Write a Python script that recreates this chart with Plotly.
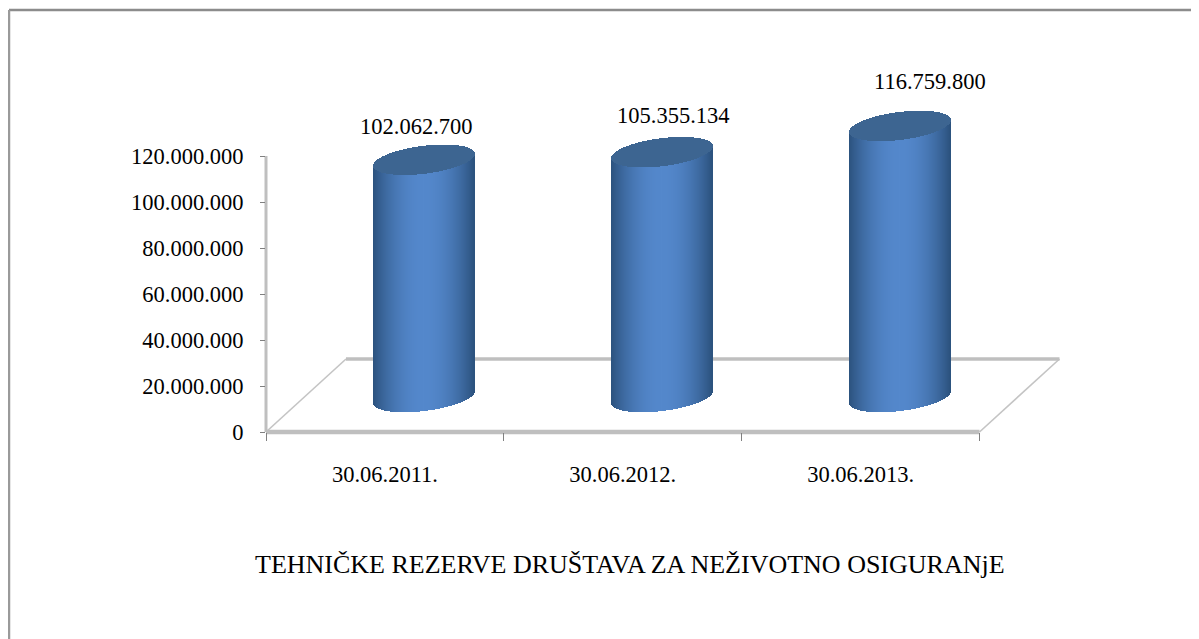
import numpy as np
import plotly.graph_objects as go

categories = ["30.06.2011.", "30.06.2012.", "30.06.2013."]
values = [102062700, 105355134, 116759800]
y_ticks = [0, 20000000, 40000000, 60000000, 80000000, 100000000, 120000000]
title_text = "TEHNIČKE REZERVE DRUŠTAVA ZA NEŽIVOTNO OSIGURANjE"

PAGE = 8  # default body margin of the written page
W, H = 1199 - PAGE, 639 - PAGE
LEFT, BOTTOM_Y, TOP_Y, RIGHT = 266 - PAGE, 432 - PAGE, 60 - PAGE, 1062 - PAGE
PX_PER_CAT = (979.5 - 266) / 3
PX_PER_UNIT = 276 / 120e6


def fmt(v):
    return f"{v:,d}".replace(",", ".")


def dx(px):
    return px / PX_PER_CAT


def dy(px):
    return px / PX_PER_UNIT


DEPTH_X, DEPTH_Y = 80, 73
BAR_SHIFT_X, BAR_SHIFT_Y = 39.5, 35
TOP_LIFT = 2.5
A, SHEAR, B = 50.5, 6.0, 14.0
FONT = "Liberation Serif"
us = (np.arange(-A, A, 1.0) + 0.5) / A


def shade(u):
    # dark at the edges, light near the middle
    t = np.abs(u) ** 2.0
    light = np.array([84, 136, 204])
    dark = np.array([44, 82, 126])
    c = light + (dark - light) * np.clip(t, 0, 1)[:, None]
    return [f"rgb({int(r)},{int(g)},{int(b)})" for r, g, b in c]


fig = go.Figure()
for i, v in enumerate(values):
    cx = i + 0.5 + dx(BAR_SHIFT_X)
    xs = cx + us * dx(A)
    widths = np.full_like(us, dx(1.0))
    half = B * np.sqrt(np.clip(1 - us ** 2, 0, 1))
    floor_c = dy(BAR_SHIFT_Y)
    top_c = floor_c + v + dy(TOP_LIFT)
    body_base = floor_c + dy(SHEAR * us) - dy(half)
    top_low = top_c + dy(SHEAR * us) - dy(half)
    top_high = top_c + dy(SHEAR * us) + dy(half)
    fig.add_trace(go.Bar(x=xs, y=top_low - body_base, base=body_base, width=widths,
                         marker=dict(color=shade(us), line_width=0), hoverinfo="skip"))
    fig.add_trace(go.Bar(x=xs, y=top_high - top_low, base=top_low, width=widths,
                         marker=dict(color="#3D6591", line_width=0), hoverinfo="skip"))

PW, PH = RIGHT - LEFT, BOTTOM_Y - TOP_Y


def px_x(px):
    return px / PW


def px_y(px):
    return px / PH


x_end = PX_PER_CAT * 3
axis_span = y_ticks[-1] * PX_PER_UNIT
thin = dict(color="#C4C4C4", width=1.6)
shapes = [
    dict(type="line", xref="paper", yref="paper", layer="below", x0=0, y0=0, x1=px_x(DEPTH_X), y1=px_y(DEPTH_Y), line=thin),
    dict(type="line", xref="paper", yref="paper", layer="below", x0=px_x(x_end), y0=0, x1=px_x(x_end + DEPTH_X), y1=px_y(DEPTH_Y), line=thin),
    dict(type="line", xref="paper", yref="paper", layer="below", x0=px_x(DEPTH_X), y0=px_y(DEPTH_Y), x1=px_x(x_end + DEPTH_X), y1=px_y(DEPTH_Y), line=dict(color="#BFBFBF", width=3.5)),
    dict(type="line", xref="paper", yref="paper", layer="below", x0=0, y0=0, x1=px_x(x_end), y1=0, line=dict(color="#BFBFBF", width=4.5)),
    dict(type="line", xref="paper", yref="paper", layer="below", x0=0, y0=0, x1=0, y1=px_y(axis_span), line=dict(color="#BFBFBF", width=3)),
    dict(type="line", xref="paper", yref="paper", x0=px_x(1 - LEFT), x1=px_x(W - LEFT), y0=px_y(BOTTOM_Y - 2), y1=px_y(BOTTOM_Y - 2),
         line=dict(color="#8C8C8C", width=2.5)),
    dict(type="line", xref="paper", yref="paper", x0=px_x(1 - LEFT), x1=px_x(1 - LEFT), y0=px_y(BOTTOM_Y - H), y1=px_y(BOTTOM_Y - 2),
         line=dict(color="#9A9A9A", width=2.5)),
]

label_offsets = [-8, 11, 30]
label_px_above = [36, 39, 47]
annotations = [
    dict(x=i + 0.5 + dx(BAR_SHIFT_X), y=dy(BAR_SHIFT_Y) + v, xref="x", yref="y", text=fmt(v), showarrow=False,
         xanchor="center", yanchor="middle",
         xshift=label_offsets[i], yshift=label_px_above[i], font=dict(family=FONT, size=22.5, color="#000000"))
    for i, v in enumerate(values)
]
annotations.append(dict(x=px_x(630 - PAGE - LEFT), y=px_y(BOTTOM_Y - (564 - PAGE)), xref="paper", yref="paper",
                        xanchor="center", yanchor="middle",
                        text=title_text, showarrow=False, font=dict(family=FONT, size=26, color="#000000")))

fig.update_layout(
    width=W, height=H, autosize=False, showlegend=False, barmode="overlay", bargap=0,
    paper_bgcolor="#FFFFFF", plot_bgcolor="rgba(0,0,0,0)",
    margin=dict(l=LEFT, r=W - RIGHT, t=TOP_Y, b=H - BOTTOM_Y, pad=0),
    shapes=shapes, annotations=annotations,
    xaxis=dict(range=[0, PW / PX_PER_CAT], showgrid=False, zeroline=False, showline=False,
               tickmode="array", tickvals=[0.5, 1.5, 2.5], ticktext=categories,
               ticks="outside", ticklen=22, tickcolor="rgba(0,0,0,0)",
               tickfont=dict(family=FONT, size=22.5, color="#000000"),
               minor=dict(tickmode="array", tickvals=[0, 1, 2, 3], ticks="outside", ticklen=8, tickwidth=1, tickcolor="#808080", showgrid=False)),
    yaxis=dict(range=[0, PH / PX_PER_UNIT], showgrid=False, zeroline=False, showline=False,
               tickmode="array", tickvals=y_ticks, ticktext=[fmt(t) for t in y_ticks],
               ticks="outside", ticklen=5, tickwidth=1, tickcolor="#808080", ticklabelstandoff=12,
               tickfont=dict(family=FONT, size=22.5, color="#000000")),
)
fig.write_html("out.html")
